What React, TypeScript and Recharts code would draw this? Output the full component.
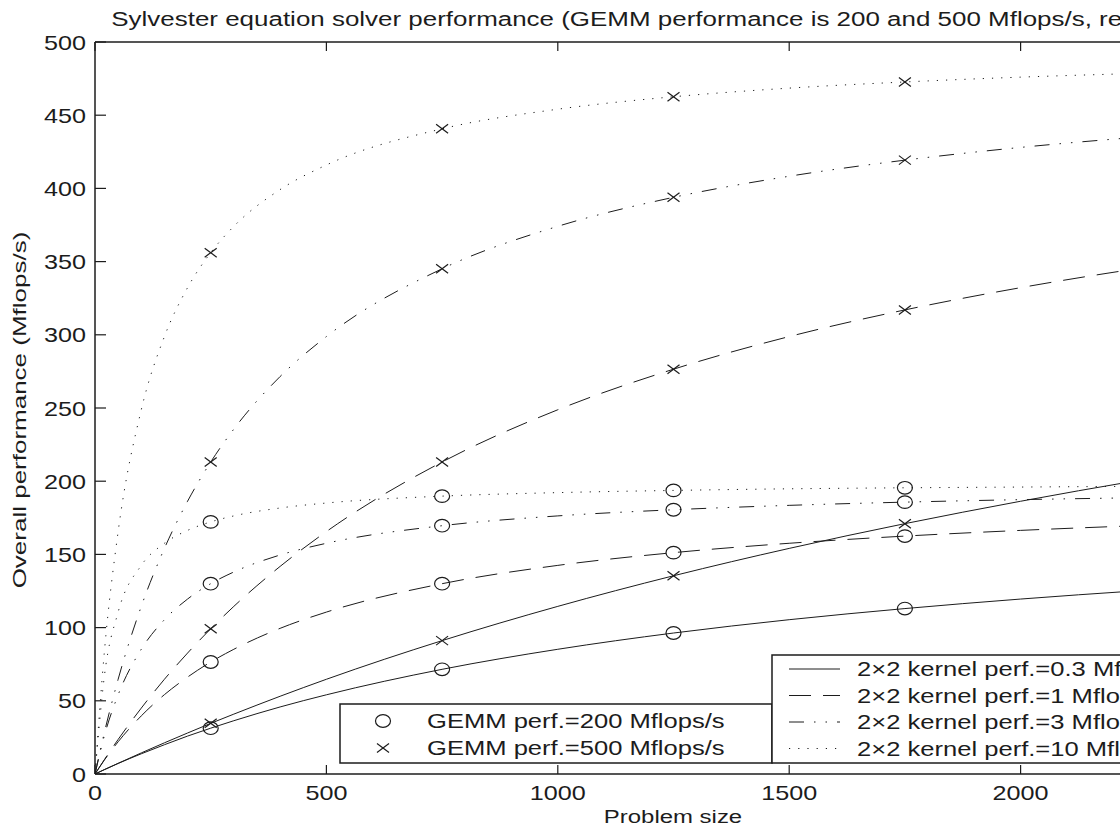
import { LineChart, Line, XAxis, YAxis } from "recharts";

const problemSize = [0, 20, 50, 100, 150, 200, 250, 300, 400, 500, 750, 1000, 1250, 1500, 1750, 2000, 2250, 2500];

// GEMM perf. = 200 Mflops/s (circles)
const g200k03 = [0, 2.9, 7.2, 13.8, 20.0, 25.9, 31.3, 36.4, 45.8, 54.1, 71.5, 85.2, 96.3, 105.4, 113.0, 119.5, 125.1, 130.0];
const g200k1 = [0, 9.4, 22.0, 39.7, 54.2, 66.2, 76.5, 85.2, 99.5, 110.6, 130.0, 142.5, 151.2, 157.6, 162.5, 166.4, 169.6, 172.2];
const g200k3 = [0, 25.9, 54.1, 85.2, 105.4, 119.5, 130.0, 138.0, 149.6, 157.6, 169.6, 176.3, 180.5, 183.5, 185.7, 187.4, 188.7, 189.8];
const g200k10 = [0, 66.2, 110.6, 142.5, 157.6, 166.4, 172.2, 176.3, 181.7, 185.1, 189.8, 192.2, 193.7, 194.8, 195.5, 196.0, 196.5, 196.8];

// GEMM perf. = 500 Mflops/s (crosses)
const g500k03 = [0, 3.0, 7.3, 14.4, 21.3, 28.0, 34.6, 40.9, 53.1, 64.7, 91.1, 114.5, 135.4, 154.1, 171.0, 186.3, 200.3, 213.1];
const g500k1 = [0, 9.7, 23.6, 45.0, 64.7, 82.6, 99.2, 114.5, 141.8, 165.6, 213.1, 248.8, 276.5, 298.8, 317.0, 332.2, 345.1, 356.1];
const g500k3 = [0, 28.0, 64.7, 114.5, 154.1, 186.3, 213.1, 235.6, 271.5, 298.8, 345.1, 374.1, 393.9, 408.3, 419.3, 428.0, 434.9, 440.7];
const g500k10 = [0, 82.6, 165.6, 248.8, 298.8, 332.2, 356.1, 374.1, 399.2, 416.0, 440.7, 454.1, 462.6, 468.5, 472.7, 476.0, 478.5, 480.6];

const markerSizes = [250, 750, 1250, 1750, 2250];
const xTicks = [0, 500, 1000, 1500, 2000, 2500];
const yTicks = [0, 50, 100, 150, 200, 250, 300, 350, 400, 450, 500];

const kernelLabels = [
  "2\u00d72 kernel perf.=0.3 Mflops/s",
  "2\u00d72 kernel perf.=1 Mflops/s",
  "2\u00d72 kernel perf.=3 Mflops/s",
  "2\u00d72 kernel perf.=10 Mflops/s",
];
const gemmLabels = ["GEMM perf.=200 Mflops/s", "GEMM perf.=500 Mflops/s"];

const TITLE = "Sylvester equation solver performance (GEMM performance is 200 and 500 Mflops/s, respectively)";

const INK = "#1c1c1c";
const FONT = "'Liberation Sans', Arial, Helvetica, sans-serif";
const SX = 1.26; // the original picture is stretched sideways

const DASHES = [undefined, "22 12", "15 10 1.5 10 1.5 10", "1.2 8"];

const series = [
  { key: "g200k03", values: g200k03, dash: 0, marker: "circle" },
  { key: "g200k1", values: g200k1, dash: 1, marker: "circle" },
  { key: "g200k3", values: g200k3, dash: 2, marker: "circle" },
  { key: "g200k10", values: g200k10, dash: 3, marker: "circle" },
  { key: "g500k03", values: g500k03, dash: 0, marker: "cross" },
  { key: "g500k1", values: g500k1, dash: 1, marker: "cross" },
  { key: "g500k3", values: g500k3, dash: 2, marker: "cross" },
  { key: "g500k10", values: g500k10, dash: 3, marker: "cross" },
];

const rows = problemSize.map((n, i) => {
  const row: Record<string, number> = { n };
  series.forEach((s) => (row[s.key] = s.values[i]));
  return row;
});

function Marker({ kind, cx, cy }: { kind: string; cx: number; cy: number }) {
  if (kind === "circle") {
    return <ellipse cx={cx} cy={cy} rx={7.5} ry={6.3} fill="none" stroke={INK} strokeWidth={1.2} />;
  }
  return (
    <g stroke={INK} strokeWidth={1.2}>
      <line x1={cx - 6} y1={cy - 4.5} x2={cx + 6} y2={cy + 4.5} />
      <line x1={cx - 6} y1={cy + 4.5} x2={cx + 6} y2={cy - 4.5} />
    </g>
  );
}

const makeDot = (kind: string, name: string) => (p: any) => {
  const k = `${name}-${p.index}`;
  if (!markerSizes.includes(p.payload.n)) return <g key={k} />;
  return (
    <g key={k}>
      <Marker kind={kind} cx={p.cx} cy={p.cy} />
    </g>
  );
};

const BottomTick = ({ x, y, payload }: any) => (
  <g>
    <line x1={x} y1={y} x2={x} y2={y - 9} stroke={INK} strokeWidth={1.2} />
    <text
      transform={`translate(${x},${y + 26}) scale(${SX},1)`}
      textAnchor="middle"
      fontSize={20}
      fontFamily={FONT}
      fill={INK}
    >
      {payload.value}
    </text>
  </g>
);

const TopTick = ({ x, y }: any) => (
  <line x1={x} y1={y} x2={x} y2={y + 9} stroke={INK} strokeWidth={1.2} />
);

const LeftTick = ({ x, y, payload }: any) => (
  <g>
    <line x1={x} y1={y} x2={x + 11} y2={y} stroke={INK} strokeWidth={1.2} />
    <text
      transform={`translate(${x - 9},${y + 7.5}) scale(${SX},1)`}
      textAnchor="end"
      fontSize={20}
      fontFamily={FONT}
      fill={INK}
    >
      {payload.value}
    </text>
  </g>
);

function Overlay() {
  const txt = { fontFamily: FONT, fill: INK };
  return (
    <svg width={1120} height={830} style={{ position: "absolute", left: 0, top: 0 }}>
      <text transform={`translate(678,26) scale(${SX},1)`} textAnchor="middle" fontSize={20.6} {...txt}>
        {TITLE}
      </text>
      <text transform={`translate(673,823) scale(${SX},1)`} textAnchor="middle" fontSize={19} {...txt}>
        Problem size
      </text>
      <text transform="translate(26,410) scale(0.72,1) rotate(-90)" textAnchor="middle" fontSize={26} {...txt}>
        Overall performance (Mflops/s)
      </text>

      {/* GEMM legend */}
      <rect x={340} y={704} width={432} height={59} fill="white" stroke={INK} strokeWidth={1.5} />
      {gemmLabels.map((label, i) => {
        const y = 721 + i * 27;
        return (
          <g key={label}>
            <Marker kind={i === 0 ? "circle" : "cross"} cx={383} cy={y} />
            <text transform={`translate(427,${y + 7}) scale(${SX},1)`} fontSize={20.3} {...txt}>
              {label}
            </text>
          </g>
        );
      })}

      {/* kernel legend */}
      <rect x={772} y={655} width={500} height={108} fill="white" stroke={INK} strokeWidth={1.5} />
      {kernelLabels.map((label, i) => {
        const y = 669 + i * 26.5;
        return (
          <g key={label}>
            <line x1={789} y1={y} x2={840} y2={y} stroke={INK} strokeWidth={1} strokeDasharray={DASHES[i]} />
            <text transform={`translate(857,${y + 7}) scale(${SX},1)`} fontSize={20.3} {...txt}>
              {label}
            </text>
          </g>
        );
      })}
    </svg>
  );
}

export default function App() {
  return (
    <div
      style={{
        position: "fixed",
        left: 0,
        top: 0,
        width: 1120,
        height: 830,
        overflow: "hidden",
        background: "white",
      }}
    >
      <LineChart
        width={1400}
        height={830}
        data={rows}
        margin={{ top: 12, right: 148, bottom: 0, left: 0 }}
        style={{ position: "absolute", left: 0, top: 0 }}
      >
        <XAxis
          dataKey="n"
          type="number"
          domain={[0, 2500]}
          ticks={xTicks}
          height={56}
          tickSize={0}
          tickMargin={0}
          tick={<BottomTick />}
          tickLine={false}
          axisLine={{ stroke: INK, strokeWidth: 1.5 }}
          allowDataOverflow
        />
        <XAxis
          xAxisId="top"
          orientation="top"
          dataKey="n"
          type="number"
          domain={[0, 2500]}
          ticks={xTicks}
          height={30}
          tickSize={0}
          tickMargin={0}
          tick={<TopTick />}
          tickLine={false}
          axisLine={{ stroke: INK, strokeWidth: 1.5 }}
          allowDataOverflow
        />
        <YAxis
          type="number"
          domain={[0, 500]}
          ticks={yTicks}
          width={95}
          tickSize={0}
          tickMargin={0}
          tick={<LeftTick />}
          tickLine={false}
          axisLine={{ stroke: INK, strokeWidth: 1.5 }}
          allowDataOverflow
        />
        {series.map((s) => (
          <Line
            key={s.key}
            dataKey={s.key}
            type="monotone"
            stroke={INK}
            strokeWidth={1}
            strokeDasharray={DASHES[s.dash]}
            dot={makeDot(s.marker, s.key)}
            activeDot={false}
            isAnimationActive={false}
          />
        ))}
      </LineChart>
      <Overlay />
    </div>
  );
}
